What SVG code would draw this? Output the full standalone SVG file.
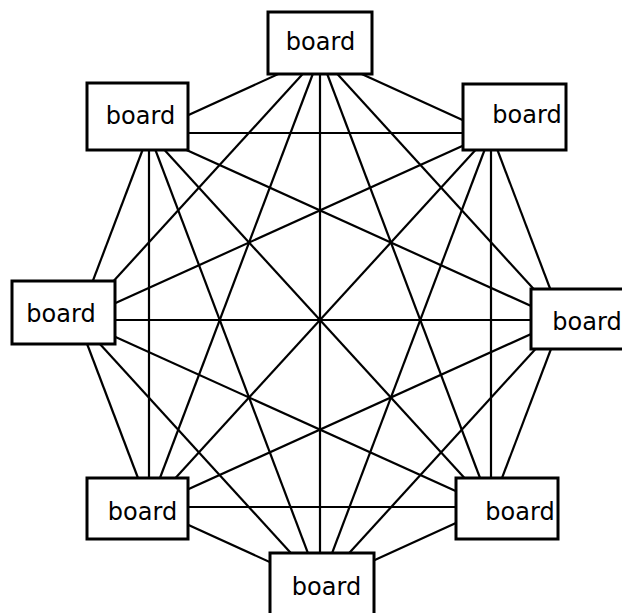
<svg xmlns="http://www.w3.org/2000/svg" width="622" height="613" viewBox="0 0 622 613">
<style>
.edge{stroke:#000;stroke-width:2.2;fill:none}
.box{fill:#fff;stroke:#000;stroke-width:3}
.lbl{font-family:"DejaVu Sans",Verdana,sans-serif;font-size:24px;fill:#000;text-anchor:middle}
</style>
<rect width="622" height="613" fill="#fff"/>
<g id="connectors" class="edge">
<line x1="320" y1="55" x2="491" y2="133"/>
<line x1="320" y1="55" x2="562" y2="320"/>
<line x1="320" y1="55" x2="491" y2="507"/>
<line x1="320" y1="55" x2="320" y2="585"/>
<line x1="320" y1="55" x2="149" y2="507"/>
<line x1="320" y1="55" x2="78" y2="320"/>
<line x1="320" y1="55" x2="149" y2="133"/>
<line x1="491" y1="133" x2="562" y2="320"/>
<line x1="491" y1="133" x2="491" y2="507"/>
<line x1="491" y1="133" x2="320" y2="585"/>
<line x1="491" y1="133" x2="149" y2="507"/>
<line x1="491" y1="133" x2="78" y2="320"/>
<line x1="491" y1="133" x2="149" y2="133"/>
<line x1="562" y1="320" x2="491" y2="507"/>
<line x1="562" y1="320" x2="320" y2="585"/>
<line x1="562" y1="320" x2="149" y2="507"/>
<line x1="562" y1="320" x2="78" y2="320"/>
<line x1="562" y1="320" x2="149" y2="133"/>
<line x1="491" y1="507" x2="320" y2="585"/>
<line x1="491" y1="507" x2="149" y2="507"/>
<line x1="491" y1="507" x2="78" y2="320"/>
<line x1="491" y1="507" x2="149" y2="133"/>
<line x1="320" y1="585" x2="149" y2="507"/>
<line x1="320" y1="585" x2="78" y2="320"/>
<line x1="320" y1="585" x2="149" y2="133"/>
<line x1="149" y1="507" x2="78" y2="320"/>
<line x1="149" y1="507" x2="149" y2="133"/>
<line x1="78" y1="320" x2="149" y2="133"/>
</g>
<g id="node-top"><rect class="box" x="268" y="12" width="104" height="62"/><text class="lbl" x="320.5" y="50">board</text></g>
<g id="node-upper-left"><rect class="box" x="87" y="83" width="101" height="67"/><text class="lbl" x="140.5" y="124">board</text></g>
<g id="node-upper-right"><rect class="box" x="463" y="84" width="103" height="66"/><text class="lbl" x="527" y="123">board</text></g>
<g id="node-left"><rect class="box" x="12" y="281" width="103" height="63"/><text class="lbl" x="61" y="322">board</text></g>
<g id="node-right"><rect class="box" x="531" y="289" width="103" height="60"/><text class="lbl" x="587" y="330">board</text></g>
<g id="node-lower-left"><rect class="box" x="87" y="478" width="101" height="61"/><text class="lbl" x="142.5" y="520">board</text></g>
<g id="node-lower-right"><rect class="box" x="456" y="478" width="102" height="61"/><text class="lbl" x="520" y="520">board</text></g>
<g id="node-bottom"><rect class="box" x="270" y="553" width="104" height="64"/><text class="lbl" x="326.5" y="595">board</text></g>
</svg>
